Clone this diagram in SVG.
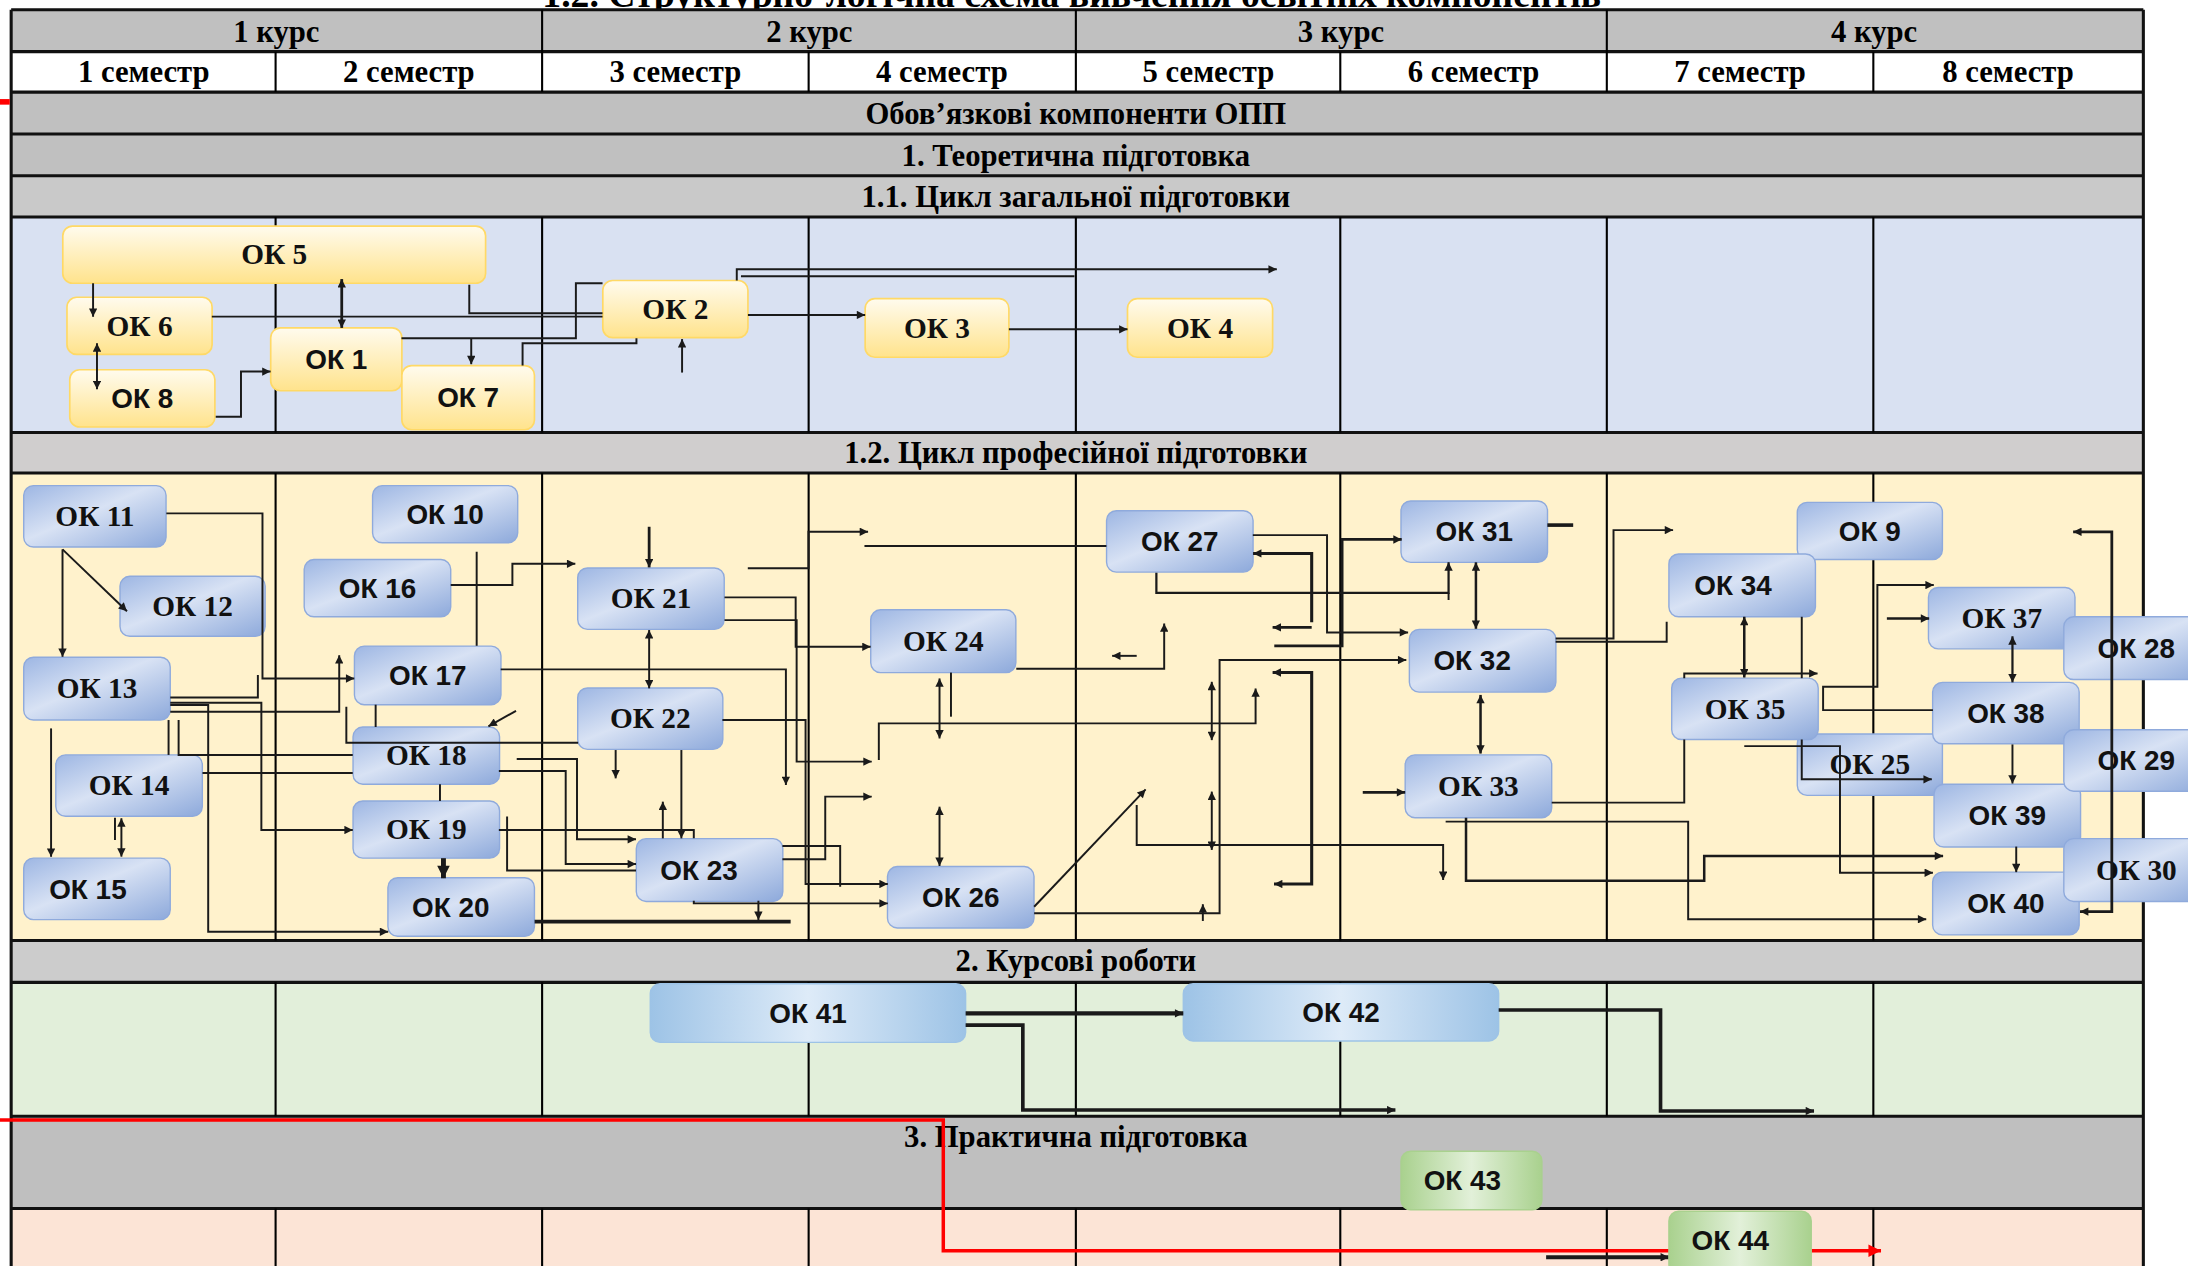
<svg xmlns="http://www.w3.org/2000/svg" width="2188" height="1266" viewBox="0 0 2188 1266">
<defs>
<style>
.ln{fill:none;stroke:#1a1a1a;stroke-width:1.4}
.tk{fill:none;stroke:#1a1a1a;stroke-width:2.6}
.gr{stroke:#000;stroke-width:1.5;fill:none}
.gh{stroke:#111;stroke-width:2.2;fill:none}
.hd{font-family:"Liberation Serif","Times New Roman",serif;font-weight:bold;font-size:22px;text-anchor:middle;fill:#000}
.ts{font-family:"Liberation Serif","Times New Roman",serif;font-weight:bold;font-size:21px;text-anchor:middle;fill:#111}
.tn{font-family:"Liberation Sans",Arial,sans-serif;font-weight:bold;font-size:20px;text-anchor:middle;fill:#111}
.y{fill:url(#gy);stroke:#FFD966;stroke-width:1.2}
.b{fill:url(#gb);stroke:#8FAADC;stroke-width:1}
.c{fill:url(#gc);stroke:#9DC3E6;stroke-width:1}
.g{fill:url(#gg);stroke:#A9D18E;stroke-width:1}
</style>
<linearGradient id="gy" x1="0" y1="0" x2="0" y2="1"><stop offset="0" stop-color="#FFFBEE"/><stop offset="1" stop-color="#FFE38C"/></linearGradient>
<linearGradient id="gb" x1="0" y1="0" x2="1" y2="1"><stop offset="0" stop-color="#9DB6E3"/><stop offset="0.45" stop-color="#D8E2F4"/><stop offset="1" stop-color="#8DA9DB"/></linearGradient>
<linearGradient id="gc" x1="0" y1="0" x2="1" y2="0"><stop offset="0" stop-color="#9DC3E6"/><stop offset="0.5" stop-color="#DEEBF8"/><stop offset="1" stop-color="#9DC3E6"/></linearGradient>
<linearGradient id="gg" x1="0" y1="0" x2="1" y2="0"><stop offset="0" stop-color="#A9D18E"/><stop offset="0.5" stop-color="#E2F0D9"/><stop offset="1" stop-color="#A9D18E"/></linearGradient>
<marker id="m" viewBox="0 0 10 10" refX="10" refY="5" markerWidth="8" markerHeight="6" orient="auto-start-reverse" markerUnits="userSpaceOnUse"><path d="M0,0L10,5L0,10z" fill="#1a1a1a"/></marker>
<marker id="mt" viewBox="0 0 10 10" refX="10" refY="5" markerWidth="10" markerHeight="9" orient="auto-start-reverse" markerUnits="userSpaceOnUse"><path d="M0,0L10,5L0,10z" fill="#1a1a1a"/></marker>
<marker id="mr" viewBox="0 0 10 10" refX="10" refY="5" markerWidth="11" markerHeight="9" orient="auto" markerUnits="userSpaceOnUse"><path d="M0,0L10,5L0,10z" fill="#FF0000"/></marker>
</defs>
<rect width="2188" height="1266" fill="#fff"/>
<g transform="scale(1.39541)">
<g id="table">
<text class="hd" x="768" y="5" style="font-size:27px">1.2. Структурно-логічна схема вивчення освітніх компонентів</text>
<rect x="8" y="7" width="1528" height="30" fill="#C0C0C0"/>
<rect x="8" y="37" width="1528" height="29" fill="#FFFFFF"/>
<rect x="8" y="66" width="1528" height="30" fill="#C0C0C0"/>
<rect x="8" y="96" width="1528" height="30" fill="#C0C0C0"/>
<rect x="8" y="126" width="1528" height="29.5" fill="#C9C9C9"/>
<rect x="8" y="155.5" width="1528" height="154.5" fill="#D9E1F2"/>
<rect x="8" y="310" width="1528" height="29" fill="#D0CECE"/>
<rect x="8" y="339" width="1528" height="335" fill="#FFF2CC"/>
<rect x="8" y="674" width="1528" height="30" fill="#CCCCCC"/>
<rect x="8" y="704" width="1528" height="96" fill="#E2EFDA"/>
<rect x="8" y="800" width="1528" height="66" fill="#BFBFBF"/>
<rect x="8" y="866" width="1528" height="50" fill="#FCE4D6"/>
<path class="gh" d="M8,7H1536M8,37H1536M8,66H1536M8,96H1536M8,126H1536M8,155.5H1536M8,310H1536M8,339H1536M8,674H1536M8,704H1536M8,800H1536M8,866H1536M8,7V916M1536,7V916"/>
<path class="gr" d="M388.5,7V66M771,7V66M1151.5,7V66M197.5,37V66M579.5,37V66M960.5,37V66M1342.5,37V66"/>
<path class="gr" d="M197.5,155.5V310M388.5,155.5V310M579.5,155.5V310M771,155.5V310M960.5,155.5V310M1151.5,155.5V310M1342.5,155.5V310"/>
<path class="gr" d="M197.5,339V674M388.5,339V674M579.5,339V674M771,339V674M960.5,339V674M1151.5,339V674M1342.5,339V674"/>
<path class="gr" d="M197.5,704V800M388.5,704V800M579.5,704V800M771,704V800M960.5,704V800M1151.5,704V800M1342.5,704V800"/>
<path class="gr" d="M197.5,866V916M388.5,866V916M579.5,866V916M771,866V916M960.5,866V916M1151.5,866V916M1342.5,866V916"/>
<text class="hd" x="198" y="30">1 курс</text>
<text class="hd" x="580" y="30">2 курс</text>
<text class="hd" x="961" y="30">3 курс</text>
<text class="hd" x="1343" y="30">4 курс</text>
<text class="hd" x="103" y="59">1 семестр</text>
<text class="hd" x="293" y="59">2 семестр</text>
<text class="hd" x="484" y="59">3 семестр</text>
<text class="hd" x="675" y="59">4 семестр</text>
<text class="hd" x="866" y="59">5 семестр</text>
<text class="hd" x="1056" y="59">6 семестр</text>
<text class="hd" x="1247" y="59">7 семестр</text>
<text class="hd" x="1439" y="59">8 семестр</text>
<text class="hd" x="771" y="89">Обов’язкові компоненти ОПП</text>
<text class="hd" x="771" y="119">1. Теоретична підготовка</text>
<text class="hd" x="771" y="148">1.1. Цикл загальної підготовки</text>
<text class="hd" x="771" y="332">1.2. Цикл професійної підготовки</text>
<text class="hd" x="771" y="696">2. Курсові роботи</text>
<text class="hd" x="771" y="822">3. Практична підготовка</text>
</g>
<g id="ok25"><rect class="b" x="1288" y="526" width="104" height="44" rx="7"/><text class="ts" x="1340" y="555">ОК 25</text></g>
<g id="ok5"><rect class="y" x="45" y="162" width="303" height="41" rx="7"/><text class="ts" x="196.5" y="189.5">ОК 5</text></g>
<g id="ok6"><rect class="y" x="48" y="213" width="104" height="41" rx="7"/><text class="ts" x="100" y="240.5">ОК 6</text></g>
<g id="ok8"><rect class="y" x="50" y="265" width="104" height="41" rx="7"/><text class="tn" x="102" y="292.5">ОК 8</text></g>
<g id="ok1"><rect class="y" x="194" y="235" width="94" height="45" rx="7"/><text class="tn" x="241" y="264.5">ОК 1</text></g>
<g id="ok7"><rect class="y" x="288" y="262" width="95" height="46" rx="7"/><text class="tn" x="335.5" y="292">ОК 7</text></g>
<g id="ok2"><rect class="y" x="432" y="201" width="104" height="41" rx="7"/><text class="ts" x="484" y="228.5">ОК 2</text></g>
<g id="ok3"><rect class="y" x="620" y="214" width="103" height="42" rx="7"/><text class="ts" x="671.5" y="242">ОК 3</text></g>
<g id="ok4"><rect class="y" x="808" y="214" width="104" height="42" rx="7"/><text class="ts" x="860" y="242">ОК 4</text></g>
<g id="ok11"><rect class="b" x="17" y="348" width="102" height="44" rx="7"/><text class="ts" x="68" y="377">ОК 11</text></g>
<g id="ok12"><rect class="b" x="86" y="413" width="104" height="43" rx="7"/><text class="ts" x="138" y="441.5">ОК 12</text></g>
<g id="ok13"><rect class="b" x="17" y="471" width="105" height="45" rx="7"/><text class="ts" x="69.5" y="500.5">ОК 13</text></g>
<g id="ok14"><rect class="b" x="40" y="541" width="105" height="44" rx="7"/><text class="ts" x="92.5" y="570">ОК 14</text></g>
<g id="ok15"><rect class="b" x="17" y="615" width="105" height="44" rx="7"/><text class="tn" x="63" y="644">ОК 15</text></g>
<g id="ok10"><rect class="b" x="267" y="348" width="104" height="41" rx="7"/><text class="tn" x="319" y="375.5">ОК 10</text></g>
<g id="ok16"><rect class="b" x="218" y="401" width="105" height="41" rx="7"/><text class="tn" x="270.5" y="428.5">ОК 16</text></g>
<g id="ok17"><rect class="b" x="254" y="463" width="105" height="42" rx="7"/><text class="tn" x="306.5" y="491">ОК 17</text></g>
<g id="ok18"><rect class="b" x="253" y="521" width="105" height="41" rx="7"/><text class="ts" x="305.5" y="548.5">ОК 18</text></g>
<g id="ok19"><rect class="b" x="253" y="574" width="105" height="41" rx="7"/><text class="ts" x="305.5" y="601.5">ОК 19</text></g>
<g id="ok20"><rect class="b" x="278" y="629" width="105" height="42" rx="7"/><text class="tn" x="323" y="657">ОК 20</text></g>
<g id="ok21"><rect class="b" x="414" y="407" width="105" height="44" rx="7"/><text class="ts" x="466.5" y="436">ОК 21</text></g>
<g id="ok22"><rect class="b" x="414" y="493" width="104" height="44" rx="7"/><text class="ts" x="466" y="522">ОК 22</text></g>
<g id="ok23"><rect class="b" x="456" y="601" width="105" height="45" rx="7"/><text class="tn" x="501" y="630.5">ОК 23</text></g>
<g id="ok24"><rect class="b" x="624" y="437" width="104" height="45" rx="7"/><text class="ts" x="676" y="466.5">ОК 24</text></g>
<g id="ok26"><rect class="b" x="636" y="621" width="105" height="44" rx="7"/><text class="tn" x="688.5" y="650">ОК 26</text></g>
<g id="ok27"><rect class="b" x="793" y="366" width="105" height="44" rx="7"/><text class="tn" x="845.5" y="395">ОК 27</text></g>
<g id="ok31"><rect class="b" x="1004" y="359" width="105" height="44" rx="7"/><text class="tn" x="1056.5" y="388">ОК 31</text></g>
<g id="ok32"><rect class="b" x="1010" y="451" width="105" height="45" rx="7"/><text class="tn" x="1055" y="480.5">ОК 32</text></g>
<g id="ok33"><rect class="b" x="1007" y="541" width="105" height="45" rx="7"/><text class="ts" x="1059.5" y="570.5">ОК 33</text></g>
<g id="ok9"><rect class="b" x="1288" y="360" width="104" height="41" rx="7"/><text class="tn" x="1340" y="387.5">ОК 9</text></g>
<g id="ok34"><rect class="b" x="1196" y="397" width="105" height="45" rx="7"/><text class="tn" x="1242" y="426.5">ОК 34</text></g>
<g id="ok35"><rect class="b" x="1198" y="486" width="105" height="44" rx="7"/><text class="ts" x="1250.5" y="515">ОК 35</text></g>
<g id="ok37"><rect class="b" x="1382" y="421" width="105" height="44" rx="7"/><text class="ts" x="1434.5" y="450">ОК 37</text></g>
<g id="ok38"><rect class="b" x="1385" y="489" width="105" height="44" rx="7"/><text class="tn" x="1437.5" y="518">ОК 38</text></g>
<g id="ok39"><rect class="b" x="1386" y="562" width="105" height="45" rx="7"/><text class="tn" x="1438.5" y="591.5">ОК 39</text></g>
<g id="ok40"><rect class="b" x="1385" y="625" width="105" height="45" rx="7"/><text class="tn" x="1437.5" y="654.5">ОК 40</text></g>
<g id="ok28"><rect class="b" x="1479" y="442" width="105" height="45" rx="7"/><text class="tn" x="1531" y="471.5">ОК 28</text></g>
<g id="ok29"><rect class="b" x="1479" y="523" width="105" height="44" rx="7"/><text class="tn" x="1531" y="552">ОК 29</text></g>
<g id="ok30"><rect class="b" x="1479" y="601" width="105" height="45" rx="7"/><text class="ts" x="1531" y="630.5">ОК 30</text></g>
<g id="ok41"><rect class="c" x="466" y="705" width="226" height="42" rx="7"/><text class="tn" x="579" y="733">ОК 41</text></g>
<g id="ok42"><rect class="c" x="848" y="705" width="226" height="41" rx="7"/><text class="tn" x="961" y="732.5">ОК 42</text></g>
<g id="ok43"><rect class="g" x="1004" y="825" width="101" height="42" rx="7"/><text class="tn" x="1048" y="853">ОК 43</text></g>
<g id="connectors">
<path class="ln" d="M66.7,203V227" marker-end="url(#m)"/>
<path class="ln" d="M69.5,246V279" marker-start="url(#m)" marker-end="url(#m)"/>
<path class="ln" d="M154.6,298.6H172.7V266.3H193.9" marker-end="url(#m)"/>
<path class="ln" d="M244.9,235V200" style="stroke-width:2" marker-start="url(#m)" marker-end="url(#m)"/>
<path class="ln" d="M151.8,226.9H431.8"/>
<path class="ln" d="M336.3,204V224.5H431.8"/>
<path class="ln" d="M287.7,242.4H412.7V203H431.8"/>
<path class="ln" d="M337.7,242.4V261" marker-end="url(#m)"/>
<path class="ln" d="M374.5,262V246H456.1V242.4"/>
<path class="ln" d="M488.8,267V243" marker-end="url(#m)"/>
<path class="ln" d="M528,201V193H915" marker-end="url(#m)"/>
<path class="ln" d="M531,198H770"/>
<path class="ln" d="M536,225.7H620" marker-end="url(#m)"/>
<path class="ln" d="M723,236H808" marker-end="url(#m)"/>
<path class="ln" d="M119.2,367.9H188.1V486.2H253.9" marker-end="url(#m)"/>
<path class="ln" d="M44.8,393.7L91,438" marker-end="url(#m)"/>
<path class="ln" d="M44.8,393.7V470.7" marker-end="url(#m)"/>
<path class="ln" d="M122,499.8H184.8V483.8"/>
<path class="ln" d="M122,503.6H187.3V594.8H252.8" marker-end="url(#m)"/>
<path class="ln" d="M122,505.3H149.2V667.7H278.2" marker-end="url(#m)"/>
<path class="ln" d="M122,510H243.1V469.5" marker-end="url(#m)"/>
<path class="ln" d="M120.8,516V541"/>
<path class="ln" d="M128,516V541.1H252.8"/>
<path class="ln" d="M145.1,554H252.8"/>
<path class="ln" d="M36.6,522V614" marker-end="url(#m)"/>
<path class="ln" d="M87,586.4V613.9" marker-start="url(#m)" marker-end="url(#m)"/>
<path class="ln" d="M82.4,586V602"/>
<path class="ln" d="M323,419.3H367.2V404H412.3" marker-end="url(#m)"/>
<path class="ln" d="M341.6,395.4V462.8"/>
<path class="ln" d="M358.8,479.7H563.2V562.6" marker-end="url(#m)"/>
<path class="ln" d="M269.2,505V521"/>
<path class="ln" d="M248.2,506.5V532.3H414.3"/>
<path class="ln" d="M369.8,509.4L350,520.5" marker-end="url(#m)"/>
<path class="ln" d="M370.3,543.9H413.5V601.5H455.8" marker-end="url(#m)"/>
<path class="ln" d="M357.5,552.5H405.4V619.2H455.8" marker-end="url(#m)"/>
<path class="ln" d="M315.3,562V574"/>
<path class="tk" d="M317.8,615V629.4" style="stroke-width:3.5" marker-end="url(#mt)"/>
<path class="ln" d="M357.5,594.8H497.2V600.8"/>
<path class="ln" d="M363.4,585.2V623.8H455.8"/>
<path class="tk" d="M383.1,660.5H566.6"/>
<path class="ln" d="M465.2,377.5V406.6" style="stroke-width:2" marker-end="url(#m)"/>
<path class="ln" d="M465.2,451.5V493.3" marker-start="url(#m)" marker-end="url(#m)"/>
<path class="ln" d="M535.9,407.3H579.4V381.1H622.1" marker-end="url(#m)"/>
<path class="ln" d="M619.5,391.3H792.9"/>
<path class="ln" d="M519.2,428.1H570.2V463.5H623.9" marker-end="url(#m)"/>
<path class="ln" d="M519.2,444.4H570.9V545.8H624.7" marker-end="url(#m)"/>
<path class="ln" d="M517.7,516H577.3V633.5H636.2" marker-end="url(#m)"/>
<path class="ln" d="M441.2,537.5V557.8" marker-end="url(#m)"/>
<path class="ln" d="M488.3,537.5V600.8" marker-end="url(#m)"/>
<path class="ln" d="M475,600.8V574.5" marker-end="url(#m)"/>
<path class="ln" d="M497.2,645.5V647.4H636.2" marker-end="url(#m)"/>
<path class="ln" d="M543.5,645.5V659.3" marker-end="url(#m)"/>
<path class="ln" d="M560.7,606.3H602.1V635.4"/>
<path class="ln" d="M560.7,615.8H591.4V570.9H624.7" marker-end="url(#m)"/>
<path class="ln" d="M681.5,482V513.6"/>
<path class="ln" d="M673.3,486.2V529.2" marker-start="url(#m)" marker-end="url(#m)"/>
<path class="ln" d="M629.8,544.6V518.4H899.8V493.4" marker-end="url(#m)"/>
<path class="ln" d="M673.3,578.1V620.6" marker-start="url(#m)" marker-end="url(#m)"/>
<path class="ln" d="M728.3,479.3H834.3V446.8" marker-end="url(#m)"/>
<path class="ln" d="M814.6,470H797" marker-end="url(#m)"/>
<path class="ln" d="M741.1,649.8L821,565.7" marker-end="url(#m)"/>
<path class="ln" d="M741.1,654.5H874V473H1007.8" marker-end="url(#m)"/>
<path class="ln" d="M862,660V648" marker-end="url(#m)"/>
<path class="ln" d="M814.6,576.9V605.6H1034.2V630.6" marker-end="url(#m)"/>
<path class="ln" d="M868.4,567.3V609.1" marker-start="url(#m)" marker-end="url(#m)"/>
<path class="ln" d="M868.4,488.6V530.4" marker-start="url(#m)" marker-end="url(#m)"/>
<path class="ln" d="M897.8,383.5H951V453.2H1009.1" marker-end="url(#m)"/>
<path class="tk" d="M940,446V396.6H898" style="stroke-width:2.2" marker-end="url(#m)"/>
<path class="tk" d="M940,449.6H912" style="stroke-width:2" marker-end="url(#m)"/>
<path class="tk" d="M912,481.9H940V633.5H913" style="stroke-width:2.2" marker-start="url(#m)" marker-end="url(#m)"/>
<path class="ln" d="M828.7,410.4V424.8H1038.1V403" style="stroke-width:1.6" marker-end="url(#m)"/>
<path class="ln" d="M1038.1,424.8V430"/>
<path class="ln" d="M1057.7,403V450.6" style="stroke-width:1.8" marker-start="url(#m)" marker-end="url(#m)"/>
<path class="tk" d="M913.2,462.8H961.8V386.6H1004.5" style="stroke-width:2" marker-end="url(#m)"/>
<path class="tk" d="M1108.9,376.3H1127.4"/>
<path class="ln" d="M1114.8,457.5H1156.3V379.9H1199" marker-end="url(#m)"/>
<path class="ln" d="M1114.8,459.9H1194.4V445.6"/>
<path class="ln" d="M1061,498V540" style="stroke-width:1.8" marker-start="url(#m)" marker-end="url(#m)"/>
<path class="tk" d="M976.6,567.8H1007" style="stroke-width:2" marker-end="url(#m)"/>
<path class="ln" d="M1112,575.2H1207V530"/>
<path class="ln" d="M1207,486V482.6H1302.5" marker-end="url(#m)"/>
<path class="ln" d="M1036,588.8H1209.8V658.8H1380.4" marker-end="url(#m)"/>
<path class="tk" d="M1050.6,586V631.1H1221.3V613.4H1392.5" style="stroke-width:1.8" marker-end="url(#m)"/>
<path class="ln" d="M1250,442V485.5" style="stroke-width:1.8" marker-start="url(#m)" marker-end="url(#m)"/>
<path class="ln" d="M1291.2,442V486"/>
<path class="ln" d="M1291.2,530V558.5H1384.4" marker-end="url(#m)"/>
<path class="ln" d="M1250,534.7H1318.6V625.4H1385.2" marker-end="url(#m)"/>
<path class="ln" d="M1385.2,508.9H1306.5V492.2H1345.4V419.3H1385.8" marker-end="url(#m)"/>
<path class="ln" d="M1352.2,443.2H1382.5" style="stroke-width:1.8" marker-end="url(#m)"/>
<path class="ln" d="M1442.2,456V489" style="stroke-width:1.6" marker-start="url(#m)" marker-end="url(#m)"/>
<path class="ln" d="M1442.2,533.5V561.5" marker-end="url(#m)"/>
<path class="ln" d="M1444.9,606.7V625" marker-end="url(#m)"/>
<path class="tk" d="M1490.6,653.3H1513.4V381.1H1485.7" style="stroke-width:2" marker-start="url(#m)" marker-end="url(#m)"/>
<path class="tk" d="M692,726.2H848" style="stroke-width:3" marker-end="url(#m)"/>
<path class="tk" d="M692,734.6H733V795.5H1000" marker-end="url(#m)"/>
<path class="tk" d="M1074,723.8H1190V796.2H1300" marker-end="url(#m)"/>
<path d="M0,802.7H676V896.3H1197" fill="none" stroke="#FF0000" stroke-width="2.5"/>
<path d="M1297,896.3H1348" fill="none" stroke="#FF0000" stroke-width="2.5" marker-end="url(#mr)"/>
<path d="M0,73H7" stroke="#FF0000" stroke-width="4"/>
<path class="tk" d="M1108,901H1196" style="stroke-width:3" marker-end="url(#m)"/>
</g>
<g id="ok44"><rect class="g" x="1196" y="868" width="102" height="45" rx="7"/><text class="tn" x="1240" y="896">ОК 44</text></g>
</g>
</svg>
